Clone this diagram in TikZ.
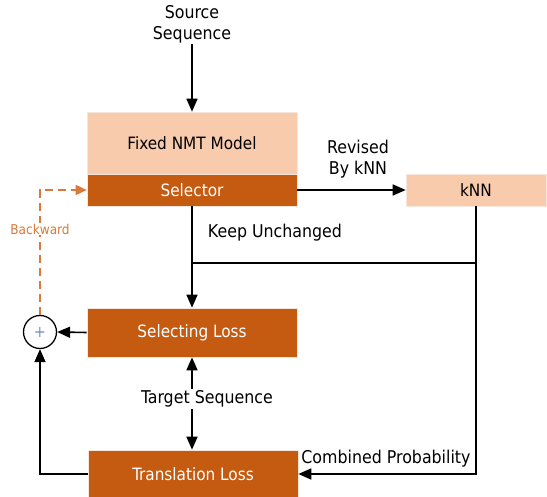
\documentclass[tikz,border=0pt]{standalone}
\usepackage{fontspec}
\setmainfont{DejaVu Sans Condensed}
\usetikzlibrary{arrows.meta}
\definecolor{peach}{HTML}{F8CBAD}
\definecolor{burnt}{HTML}{C55A11}
\definecolor{backc}{HTML}{D87A3A}
\definecolor{plusc}{HTML}{6F8FC8}
\begin{document}
\begin{tikzpicture}[x=1pt,y=-1pt,
  lbl/.style={font=\fontsize{17.6}{21}\selectfont, inner sep=1pt},
  box/.style={inner sep=0pt, font=\fontsize{17}{19}\selectfont, draw=white!85!burnt, line width=0.6pt},
  light/.style={box, fill=peach, text=black},
  dark/.style={box, fill=burnt, text=white},
  tip/.style={Triangle[length=13pt,width=11pt]},
  arr/.style={line width=1.6pt, -{Triangle[length=13pt,width=11pt]}},
  ln/.style={line width=1.6pt}]
\useasboundingbox (0,0) rectangle (547,497);
\node[light, minimum width=210pt, minimum height=62pt] (nmt) at (192,143) {Fixed NMT Model};
\node[dark, minimum width=210pt, minimum height=32pt] (sel) at (192,190) {Selector};
\node[light, minimum width=140pt, minimum height=32pt] (knn) at (476,190) {kNN};
\node[dark, minimum width=210pt, minimum height=49pt] (sloss) at (192,332.5) {Selecting Loss};
\node[dark, minimum width=210pt, minimum height=48pt] (tloss) at (193,474) {Translation Loss};
\node[lbl, align=center] (src) at (192,24) {Source\\Sequence};
\node[circle, draw, line width=1.3pt, minimum size=33pt, inner sep=0pt, text=plusc, font=\fontsize{16}{16}\selectfont] (plus) at (40,332) {+};
\coordinate (jl) at (192,263);
\coordinate (jr) at (476,263);
\draw[arr] (src) -- (nmt.north);
\draw[arr] (sel.east) -- (knn.west);
\draw[arr] (sel.south) -- (sloss.north);
\draw[ln] (jl) -- (jr);
\draw[arr] (knn.south) |- (tloss.east);
\draw[arr] (sloss.west) -- (plus.east);
\draw[arr] (tloss.west) -| (plus.south);
\draw[line width=1.6pt, backc, dashed, dash pattern=on 8pt off 5pt, -{Triangle[length=11pt,width=10pt]}] (plus.north) |- (sel.west);
\draw[line width=1.6pt, {Triangle[length=13pt,width=11pt]}-{Triangle[length=13pt,width=11pt]}] (sloss.south) -- (sloss.south |- tloss.north);
\node[lbl, fill=white, inner sep=2pt] (tgt) at (207,399) {Target Sequence};
\node[lbl] (keep) at (275,233) {Keep Unchanged};
\node[lbl, align=center] (rev) at (358,159) {Revised\\By kNN};
\node[lbl] (comb) at (386,459) {Combined Probability};
\node[font=\fontsize{13.5}{15}\selectfont, text=backc, fill=white, inner sep=1pt] (bw) at (40,229) {Backward};
\end{tikzpicture}
\end{document}
